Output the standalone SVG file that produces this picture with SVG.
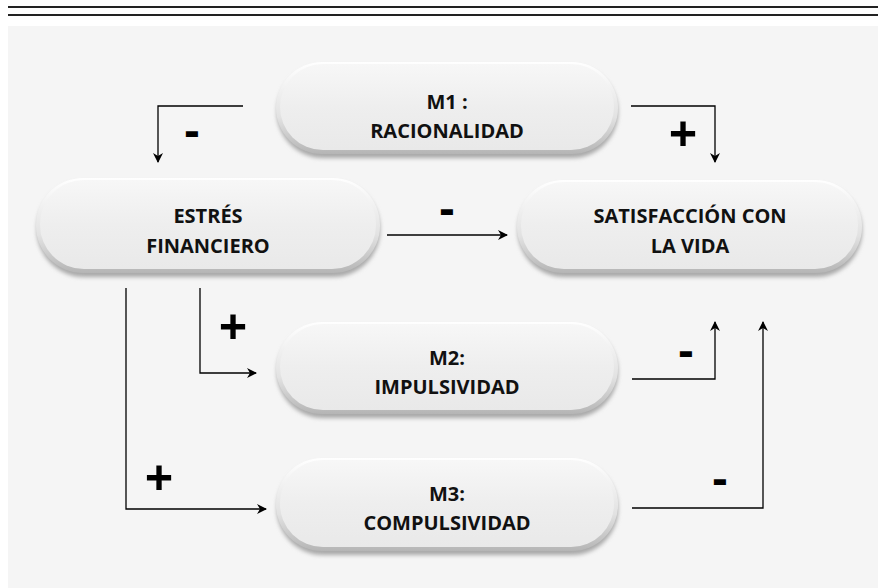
<svg xmlns="http://www.w3.org/2000/svg" width="878" height="588" viewBox="0 0 878 588">
<style>
.lbl{font-family:"Open Sans","Noto Sans","Liberation Sans",sans-serif;font-weight:700;font-size:20px;fill:#111;text-anchor:middle}
.plus{font-family:"Open Sans","Liberation Sans",sans-serif;font-weight:700;font-size:50px;fill:#000;text-anchor:middle}
.minus{font-family:"Open Sans","Liberation Sans",sans-serif;font-weight:700;font-size:46px;fill:#000;text-anchor:middle}
.conn{fill:none;stroke:#000;stroke-width:1.3}
</style>
<defs>
<linearGradient id="fillG" x1="0" y1="0" x2="0" y2="1">
<stop offset="0" stop-color="#f7f7f7"/>
<stop offset="0.5" stop-color="#eeeeee"/>
<stop offset="1" stop-color="#e9e9e9"/>
</linearGradient>
<linearGradient id="rimG" x1="0" y1="0" x2="0" y2="1">
<stop offset="0" stop-color="#ffffff"/>
<stop offset="0.6" stop-color="#e2e2e2"/>
<stop offset="1" stop-color="#b5b5b5"/>
</linearGradient>
<filter id="sh" x="-10%" y="-20%" width="120%" height="150%">
<feGaussianBlur stdDeviation="2"/>
</filter>
<marker id="ah" viewBox="0 0 10 10" refX="9" refY="5" markerWidth="10" markerHeight="10" markerUnits="userSpaceOnUse" orient="auto">
<path d="M0,0 L10,5 L0,10 L3,5 Z" fill="#000"/>
</marker>
</defs>
<rect x="8" y="26" width="870" height="562" fill="#f5f5f5"/>
<line x1="8" y1="7" x2="878" y2="7" stroke="#222" stroke-width="2"/>
<line x1="8" y1="15" x2="878" y2="15" stroke="#222" stroke-width="2"/>

<g id="m1">
<rect x="277" y="66" width="341" height="92" rx="46" fill="#a8a8a8" filter="url(#sh)"/>
<rect x="276" y="62" width="342" height="92" rx="46" fill="url(#rimG)"/>
<rect x="280" y="64" width="334" height="86" rx="43" fill="url(#fillG)"/>
<text class="lbl" x="447" y="109">M1 :</text>
<text class="lbl" x="447" y="138">RACIONALIDAD</text>
</g>
<g id="estres">
<rect x="37" y="182" width="343" height="95" rx="47" fill="#a8a8a8" filter="url(#sh)"/>
<rect x="36" y="178" width="344" height="95" rx="47" fill="url(#rimG)"/>
<rect x="40" y="180" width="336" height="89" rx="44" fill="url(#fillG)"/>
<text class="lbl" x="208" y="223">ESTRÉS</text>
<text class="lbl" x="208" y="253">FINANCIERO</text>
</g>
<g id="satisfaccion">
<rect x="518" y="184" width="344" height="93" rx="46" fill="#a8a8a8" filter="url(#sh)"/>
<rect x="517" y="180" width="345" height="93" rx="46" fill="url(#rimG)"/>
<rect x="521" y="182" width="337" height="87" rx="43" fill="url(#fillG)"/>
<text class="lbl" x="690" y="223">SATISFACCIÓN CON</text>
<text class="lbl" x="690" y="253">LA VIDA</text>
</g>
<g id="m2">
<rect x="277" y="326" width="341" height="92" rx="46" fill="#a8a8a8" filter="url(#sh)"/>
<rect x="276" y="322" width="342" height="92" rx="46" fill="url(#rimG)"/>
<rect x="280" y="324" width="334" height="86" rx="43" fill="url(#fillG)"/>
<text class="lbl" x="447" y="365">M2:</text>
<text class="lbl" x="447" y="394">IMPULSIVIDAD</text>
</g>
<g id="m3">
<rect x="277" y="462" width="341" height="93" rx="46" fill="#a8a8a8" filter="url(#sh)"/>
<rect x="276" y="458" width="342" height="93" rx="46" fill="url(#rimG)"/>
<rect x="280" y="460" width="334" height="87" rx="43" fill="url(#fillG)"/>
<text class="lbl" x="447" y="501">M3:</text>
<text class="lbl" x="447" y="530">COMPULSIVIDAD</text>
</g>

<g id="connectors">
<polyline class="conn" points="243,106 158,106 158,162" marker-end="url(#ah)"/>
<polyline class="conn" points="631,106 715,106 715,162" marker-end="url(#ah)"/>
<line class="conn" x1="387" y1="235" x2="507" y2="235" marker-end="url(#ah)"/>
<polyline class="conn" points="200,288 200,373 256,373" marker-end="url(#ah)"/>
<polyline class="conn" points="126,288 126,509 266,509" marker-end="url(#ah)"/>
<polyline class="conn" points="632,379 715,379 715,322" marker-end="url(#ah)"/>
<polyline class="conn" points="632,508 763,508 763,322" marker-end="url(#ah)"/>
<text class="minus" x="192" y="147">-</text>
<text class="plus" x="683" y="152">+</text>
<text class="minus" x="447" y="225">-</text>
<text class="plus" x="233" y="345">+</text>
<text class="plus" x="159" y="496">+</text>
<text class="minus" x="686" y="367">-</text>
<text class="minus" x="720" y="495">-</text>
</g>
</svg>
